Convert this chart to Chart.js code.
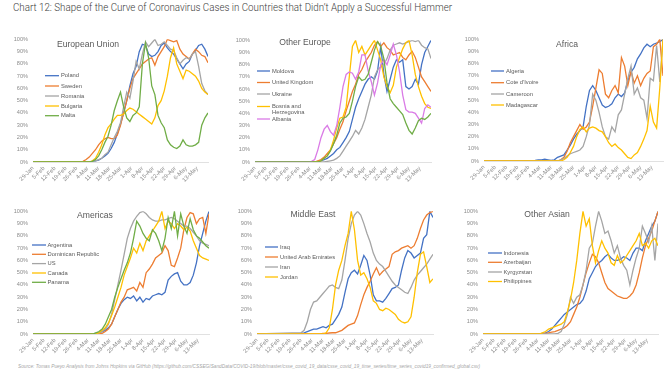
<!DOCTYPE html>
<html><head><meta charset="utf-8">
<script src="https://cdn.jsdelivr.net/npm/chart.js@4.4.0/dist/chart.umd.min.js"></script>
<style>
html,body{margin:0;padding:0;background:#fff;}
#page{position:relative;width:670px;height:375px;overflow:hidden;background:#fff;font-family:"Liberation Sans",Arial,sans-serif;}
#title{position:absolute;left:12.5px;top:1px;font-family:Roboto,"Liberation Sans",Arial,sans-serif;font-weight:300;font-size:11px;color:#3c3c3c;white-space:nowrap;transform-origin:0 0;}
#source{position:absolute;left:18px;top:364px;font-size:8px;font-style:italic;color:#a6a6a6;white-space:nowrap;transform-origin:0 0;}
canvas{position:absolute;}
</style></head>
<body><div id="page">
<div id="title">Chart 12: Shape of the Curve of Coronavirus Cases in Countries that Didn’t Apply a Successful Hammer</div>
<div id="source">Source: Tomas Pueyo Analysis from Johns Hopkins via GitHub (https://github.com/CSSEGISandData/COVID-19/blob/master/csse_covid_19_data/csse_covid_19_time_series/time_series_covid19_confirmed_global.csv)</div>
</div>
<script>
// ---- DATA ----
// day index: 0 = 29-Jan
const sampleDays = [0,28,30,32,34,36,38,40,42,44,46,48,50,52,54,56,58,60,62,64,66,68,70,72,74,76,78,80,82,84,86,88,90,92,94,96,98,100,102,104,106,108,110,112];
const tickDays = [0,7,14,21,28,35,42,49,56,63,70,77,84,91,98,105];
const tickLabels = ['29-Jan','5-Feb','12-Feb','19-Feb','26-Feb','4-Mar','11-Mar','18-Mar','25-Mar','1-Apr','8-Apr','15-Apr','22-Apr','29-Apr','6-May','13-May'];

// European Union
const poland   = [0,0,0,0,0,0,0.5,1,1.5,3,5,7,11,16,23,31,40,50,62,72,78,90,96,95,88,86,87,90,95,97,93,90,88,84,80,76,80,82,88,91,95,96,92,86];
const sweden   = [0,0,0,0.5,2,4,7,10,14,17,19,20,19,19,22,30,40,50,60,68,72,76,80,82,84,85,79,86,90,94,100,99,98,99,92,88,86,84,88,92,90,87,86,81];
const romania  = [0,0,0,0,0,0,0.5,1,2,3,6,8,14,20,25,32,45,57,52,66,82,76,88,98,94,97,100,95,96,98,95,92,91,85,80,83,85,84,88,90,78,64,58,55];
const bulgaria = [0,0,0,0,0,0,1,3,8,14,22,28,31,35,38,38,39,42,44,43,41,39,37,35,33,31,36,46,50,58,70,85,93,80,74,68,75,74,72,70,66,60,57,55];
const malta    = [0,0,0,0,0,0,0.5,2,5,10,16,21,30,42,50,57,45,36,33,38,40,45,80,97,85,62,55,38,32,28,18,14,12,11,13,18,14,13,13,14,16,30,36,40];
// Other Europe
const moldova       = [0,0,0,0,0,0,0,0.5,1,2,3,5,7,10,12,16,20,25,35,45,52,58,64,68,70,68,75,95,72,58,68,78,84,82,84,62,60,62,68,64,80,90,95,100];
const unitedKingdom = [0,0,0,0,0,0,0,1,2,4,7,10,15,20,27,33,42,50,58,64,72,76,82,86,90,96,99,95,98,94,92,88,89,90,86,84,88,91,86,78,70,66,62,58];
const ukraine       = [0,0,0,0,0,0,0,0,0,0,0.5,1,1.5,3,5,9,13,17,21,26,23,28,35,45,55,70,76,78,80,85,92,96,97,98,97,98,99,100,99,100,96,94,93,85];
const bosnia        = [0,0,0,0,0,0,0,0,1,3,5,10,18,28,36,37,45,70,95,100,90,95,88,92,96,100,92,84,70,62,57,63,78,86,93,98,100,88,72,62,54,48,45,44];
const albania       = [0,0,0,0,0,0.5,2,10,20,27,30,25,22,30,45,62,72,74,73,68,74,88,88,75,66,55,65,80,84,80,88,97,88,74,55,43,41,41,40,36,32,44,47,45];
const otherEuropeSixth = [0,0,0,0,0,0,0,0,1,3,5,9,15,22,32,36,37,40,50,62,70,67,68,72,82,92,99,95,85,65,52,48,45,42,39,32,26,23,28,34,36,35,37,40];
// Africa
const algeria     = [0,0.3,0.3,0.5,1,1,1.5,1,0.5,1,3,4,5,9,13,18,22,25,28,45,58,62,58,52,46,44,45,47,52,55,53,56,66,73,77,84,88,93,96,94,96,97,98,100];
const coteDIvoire = [0,0,0,0,0,0,0,0,0,0,0,1,3,8,15,20,25,30,26,28,32,45,60,75,72,55,52,58,62,56,85,78,62,74,64,70,62,68,72,74,94,96,100,70];
const cameroon    = [0,0,0,0,0,0,0,0,0,0,0,1,2,4,6,7,8,9,12,20,30,55,50,40,28,20,18,28,24,38,42,55,68,78,55,60,52,50,35,68,66,95,65,100];
const madagascar  = [0,0,0,0,0,0,0,0,0,0,0,0,1,3,7,12,20,26,28,24,27,28,27,25,24,20,15,12,14,11,9,6,3,2,5,7,12,18,25,45,32,27,60,100];
// Americas
const argentina         = [0,0,0,0,0,0,0,0.5,1,2,3,5,8,14,20,25,28,30,29,31,27,30,26,29,28,31,32,33,32,34,44,47,49,50,43,40,40,42,48,58,72,82,92,100];
const dominicanRepublic = [0,0,0,0,0,0,0,0,0,0.5,2,4,8,14,20,26,30,36,37,38,35,42,38,50,53,57,62,64,66,72,68,56,55,62,70,85,95,99,98,90,94,95,82,98];
const us                = [0,0,0,0,0,0,0,0.5,1,2,4,8,16,28,40,52,65,78,86,92,96,99,100,98,95,93,92,92,93,93,94,95,94,92,90,88,88,86,83,80,76,74,73,72];
const canada            = [0,0,0,0,0,0,0,0,1,3,5,9,15,22,30,38,48,55,62,70,66,74,68,76,80,84,88,92,100,86,92,90,86,90,88,85,87,84,76,70,64,62,61,60];
const panama            = [0,0,0,0,0,0,0,1,2,4,8,14,20,30,38,45,52,58,66,78,92,88,82,78,76,85,82,76,68,78,95,86,100,80,98,88,82,94,85,80,78,75,72,70];
// Middle East
const iraq   = [0,0.5,1,2,3,4,4,5,6,5,7,8,12,16,22,34,45,50,52,49,56,64,60,48,32,27,27,26,29,33,37,38,40,52,62,68,66,62,64,66,78,81,100,95];
const uae    = [0,0,0,0,0,0,0,0,0.5,0.5,0.8,1,1,2,3,5,7,8,9,15,24,32,38,43,49,54,48,51,53,55,65,67,68,70,71,72,70,72,78,86,93,97,99,100];
const iran   = [0,1,3,10,20,26,27,30,33,36,39,40,38,37,44,60,78,90,97,100,97,90,82,75,66,60,57,55,51,47,43,40,38,36,34,33,38,44,48,51,54,57,61,65];
const jordan = [0,0,0,0,0,0,0,0,0,1,5,20,40,52,60,72,82,100,85,60,48,50,45,38,27,25,20,19,21,20,18,16,12,10,9,10,14,30,50,65,67,55,42,45];
// Other Asian
const indonesia   = [0,0,0,0,0,0,0.5,1,2,4,7,10,13,16,18,20,22,24,25,28,35,45,50,55,58,60,63,65,62,60,60,61,63,62,60,66,70,70,68,76,82,88,92,100];
const azerbaijan  = [0,0,0,0,0,0,0,0.5,1,1.5,2,3,4,5,7,10,16,22,30,40,50,58,65,63,58,50,42,37,35,33,31,30,29,29,31,34,40,50,62,72,78,84,92,100];
const kyrgyzstan  = [0,0,0,0,0,0,0,0,0,0,0,0.5,2,8,16,30,25,30,32,40,52,70,74,88,100,92,82,84,76,66,72,62,56,52,40,52,62,70,88,82,75,88,60,90];
const philippines = [0,0,0,0,0,0,1,2,4,5,6,7,8,10,18,28,42,60,82,100,88,94,72,58,68,76,70,66,58,56,64,58,60,64,68,72,76,82,72,74,70,76,78,72];

// ---- STYLE / LAYOUT ----
const C = {blue:'#4472C4', orange:'#ED7D31', gray:'#A5A5A5', yellow:'#FFC000', green:'#70AD47', pink:'#DA7BE6'};
const FONT = '"Liberation Sans", Arial, sans-serif';

const panels = [
  {name:'European Union', area:{l:33,r:208,t:37,b:162}, titleAt:[88,45],
   legend:{x1:45,x2:59,xt:61,rows:[[75.7],[86],[96],[106],[115.7]]},
   series:[['Poland',poland,C.blue],['Sweden',sweden,C.orange],['Romania',romania,C.gray],['Bulgaria',bulgaria,C.yellow],['Malta',malta,C.green]]},
  {name:'Other Europe', area:{l:255,r:431,t:38,b:162}, titleAt:[305,43],
   legend:{x1:257,x2:270,xt:272,rows:[[71],[82.5],[94],[106.5,112.8],[119]]},
   series:[['Moldova',moldova,C.blue],['United Kingdom',unitedKingdom,C.orange],['Ukraine',ukraine,C.gray],['Bosnia and Herzegovina',bosnia,C.yellow],['Albania',albania,C.pink],['Unnamed series',otherEuropeSixth,C.green]]},
  {name:'Africa', area:{l:484,r:663,t:37,b:161}, titleAt:[567,45],
   legend:{x1:491,x2:504,xt:506,rows:[[71],[82.7],[94],[105]]},
   series:[['Algeria',algeria,C.blue],["Cote d'Ivoire",coteDIvoire,C.orange],['Cameroon',cameroon,C.gray],['Madagascar',madagascar,C.yellow]]},
  {name:'Americas', area:{l:33,r:209,t:209,b:334}, titleAt:[95,216],
   legend:{x1:32,x2:46,xt:47.5,rows:[[245],[254.3],[263.6],[273],[282.3]]},
   series:[['Argentina',argentina,C.blue],['Dominican Republic',dominicanRepublic,C.orange],['US',us,C.gray],['Canada',canada,C.yellow],['Panama',panama,C.green]]},
  {name:'Middle East', area:{l:257,r:433,t:209,b:334}, titleAt:[313,215],
   legend:{x1:265,x2:278,xt:280,rows:[[247],[257],[267],[277]]},
   series:[['Iraq',iraq,C.blue],['United Arab Emirates',uae,C.orange],['Iran',iran,C.gray],['Jordan',jordan,C.yellow]]},
  {name:'Other Asian', area:{l:483,r:658,t:209,b:334}, titleAt:[547,215],
   legend:{x1:488,x2:502,xt:503.5,rows:[[253],[262.3],[272],[281.5]]},
   series:[['Indonesia',indonesia,C.blue],['Azerbaijan',azerbaijan,C.orange],['Kyrgyzstan',kyrgyzstan,C.gray],['Philippines',philippines,C.yellow]]}
];

const YW = 22, XH = 28, PT = 6, PR = 6;

function drawOverlay(chart, p, ox, oy) {
  const ctx = chart.ctx;
  ctx.save();
  ctx.fillStyle = '#595959';
  ctx.font = '8.6px ' + FONT;
  ctx.textAlign = 'center';
  ctx.textBaseline = 'middle';
  ctx.fillText(p.name, p.titleAt[0] - ox, p.titleAt[1] - oy);
  ctx.font = '5.8px ' + FONT;
  ctx.textAlign = 'left';
  chart.data.datasets.forEach((ds, i) => {
    const rows = p.legend.rows[i];
    if (!rows) return;
    ctx.strokeStyle = ds.borderColor;
    ctx.lineWidth = 1.3;
    ctx.beginPath();
    ctx.moveTo(p.legend.x1 - ox, rows[0] - oy);
    ctx.lineTo(p.legend.x2 - ox, rows[0] - oy);
    ctx.stroke();
    let lines = [ds.label];
    if (rows.length > 1) {
      lines = [];
      let cur = '';
      ds.label.split(' ').forEach(w => {
        const t = cur ? cur + ' ' + w : w;
        if (cur && ctx.measureText(t).width > 34) { lines.push(cur); cur = w; } else cur = t;
      });
      lines.push(cur);
    }
    ctx.fillStyle = '#595959';
    lines.forEach((ln, k) => ctx.fillText(ln, p.legend.xt - ox, (rows[k] !== undefined ? rows[k] : rows[0] + 6 * k) - oy));
  });
  ctx.restore();
}

const page = document.getElementById('page');
panels.forEach(p => {
  const a = p.area;
  const ox = a.l - YW, oy = a.t - PT;
  const w = a.r - a.l + YW + PR, h = a.b - a.t + PT + XH;
  const cv = document.createElement('canvas');
  cv.width = w; cv.height = h;
  cv.style.left = ox + 'px'; cv.style.top = oy + 'px';
  cv.style.width = w + 'px'; cv.style.height = h + 'px';
  page.appendChild(cv);
  new Chart(cv, {
    type: 'line',
    data: {
      datasets: p.series.map((s, i) => ({
        label: s[0],
        data: sampleDays.map((d, k) => ({x: d, y: s[1][k]})),
        borderColor: s[2],
        backgroundColor: s[2],
        borderWidth: 1.3,
        pointRadius: 0,
        tension: 0,
        fill: false,
        order: -i
      }))
    },
    options: {
      responsive: false,
      animation: false,
      devicePixelRatio: 1,
      layout: {padding: {top: PT, right: PR, left: 0, bottom: 0}},
      plugins: {legend: {display: false}, tooltip: {enabled: false}, title: {display: false}},
      scales: {
        x: {
          type: 'linear', min: 0, max: 112,
          afterBuildTicks: s => { s.ticks = tickDays.map(v => ({value: v})); },
          afterFit: s => { s.height = XH; },
          grid: {display: false, drawTicks: false},
          border: {display: true, color: '#d9d9d9', width: 0.8},
          ticks: {
            autoSkip: false, minRotation: 45, maxRotation: 45, padding: 3,
            color: '#8c8c8c', font: {family: FONT, size: 5.8},
            callback: (v, i) => tickLabels[i]
          }
        },
        y: {
          min: 0, max: 100,
          afterFit: s => { s.width = YW; },
          grid: {display: false, drawTicks: false},
          border: {display: false},
          ticks: {stepSize: 10, padding: 5, color: '#8c8c8c', font: {family: FONT, size: 5.6},
            callback: v => v + '%'}
        }
      }
    },
    plugins: [{id: 'overlay', afterDraw: ch => drawOverlay(ch, p, ox, oy)}]
  });
});

// fit the header and footer text to the reference widths
(function () {
  const t = document.getElementById('title');
  const tw = t.getBoundingClientRect().width;
  t.style.transform = 'scaleX(' + (439 / tw) + ')';
  const s = document.getElementById('source');
  const sw = s.getBoundingClientRect().width;
  s.style.transform = 'scale(' + (462 / sw) + ')';
})();
</script>
</body></html>
